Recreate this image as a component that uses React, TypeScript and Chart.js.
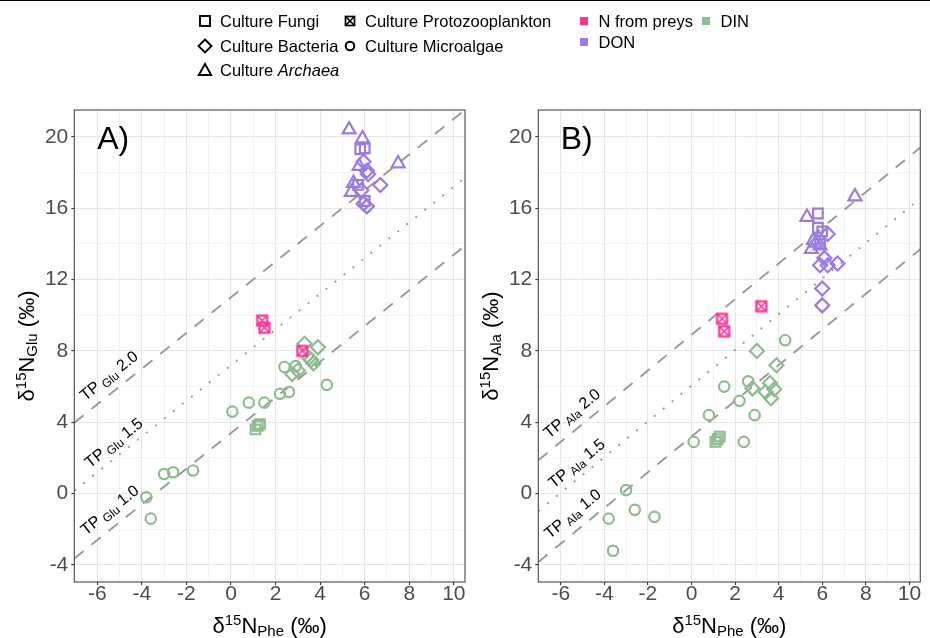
import React, { useEffect, useRef } from 'react';
import { Chart, registerables } from 'chart.js';
Chart.register(...registerables);

const FONT = "'Liberation Sans', Arial, sans-serif";
const COLOR_PREY = '#FF3399';
const COLOR_DIN = '#8FBC8F';
const COLOR_DON = '#9B7BE0';
const LINE_GREY = '#999999';

// axis extents
const X_MIN = -7.03;
const X_MAX = 10.5;
const Y_MIN = -4.95;
const Y_MAX = 21.5;

// TP reference lines (delta15N_AA = delta15N_Phe + intercept)
const tpLevels = ['1.0', '1.5', '2.0'];
const gluIntercepts = [3.4, 7.2, 11.0];
const alaIntercepts = [3.2, 6.05, 8.9];

// ---------- Panel A : Phe vs Glu ----------
const A_microalgae_DIN_x = [-3.8, -3.6, -3.0, -2.6, -1.7, 0.06, 0.8, 1.5, 2.2, 2.6, 2.4, 2.9, 4.3];
const A_microalgae_DIN_y = [-0.2, -1.4, 1.1, 1.2, 1.3, 4.6, 5.1, 5.1, 5.6, 5.7, 7.1, 7.15, 6.1];
const A_fungi_DIN_x = [1.1, 1.2, 1.3];
const A_fungi_DIN_y = [3.6, 3.8, 3.9];
const A_bacteria_DIN_x = [2.75, 3.0, 3.3, 3.9, 3.5, 3.6, 3.7];
const A_bacteria_DIN_y = [6.7, 6.9, 8.4, 8.2, 7.6, 7.5, 7.3];
const A_proto_prey_x = [1.4, 1.5, 3.2];
const A_proto_prey_y = [9.7, 9.3, 8.0];
const A_fungi_DON_x = [5.8, 6.0, 5.7, 6.0];
const A_fungi_DON_y = [19.3, 19.35, 17.3, 16.4];
const A_bacteria_DON_x = [5.95, 6.1, 6.15, 6.7, 5.85, 5.95, 6.1];
const A_bacteria_DON_y = [18.6, 18.1, 17.9, 17.3, 17.0, 16.25, 16.1];
const A_archaea_DON_x = [5.3, 5.9, 7.5, 5.75, 5.5, 5.4];
const A_archaea_DON_y = [20.4, 19.9, 18.5, 18.35, 17.4, 16.9];

// ---------- Panel B : Phe vs Ala ----------
const B_microalgae_DIN_x = [-3.8, -3.6, -3.0, -2.6, -1.7, 0.1, 0.8, 1.5, 2.2, 2.6, 2.4, 2.9, 4.3];
const B_microalgae_DIN_y = [-1.4, -3.2, 0.2, -0.9, -1.3, 2.9, 4.4, 6.0, 5.2, 6.3, 2.9, 4.4, 8.6];
const B_fungi_DIN_x = [1.1, 1.2, 1.3];
const B_fungi_DIN_y = [2.9, 3.05, 3.2];
const B_bacteria_DIN_x = [2.8, 3.0, 3.4, 3.9, 3.6, 3.8, 3.65];
const B_bacteria_DIN_y = [5.9, 8.0, 5.7, 7.2, 6.2, 5.85, 5.35];
const B_proto_prey_x = [1.4, 1.5, 3.2];
const B_proto_prey_y = [9.8, 9.1, 10.5];
const B_fungi_DON_x = [5.8, 5.8, 6.0, 5.9];
const B_fungi_DON_y = [15.7, 14.9, 14.7, 14.0];
const B_bacteria_DON_x = [6.25, 6.1, 5.9, 6.25, 6.7, 6.0, 6.0];
const B_bacteria_DON_y = [14.55, 13.2, 12.8, 12.8, 12.9, 11.5, 10.55];
const B_archaea_DON_x = [7.5, 5.3, 5.6, 5.5, 5.9, 5.7];
const B_archaea_DON_y = [16.65, 15.5, 14.2, 13.7, 13.9, 14.05];

const zip = (xs: number[], ys: number[]) => xs.map((x, i) => ({ x, y: ys[i] }));

function crossedSquare(color: string) {
  const c = document.createElement('canvas');
  c.width = 15;
  c.height = 15;
  const g = c.getContext('2d')!;
  g.strokeStyle = color;
  g.lineWidth = 2.2;
  g.strokeRect(2.5, 2.5, 10, 10);
  g.lineWidth = 1.7;
  g.beginPath();
  g.moveTo(2.5, 2.5); g.lineTo(12.5, 12.5);
  g.moveTo(12.5, 2.5); g.lineTo(2.5, 12.5);
  g.stroke();
  return c;
}

type Part = { t: string; size: number; dy: number; italic?: boolean };

function partsWidth(ctx: CanvasRenderingContext2D, parts: Part[]) {
  let w = 0;
  for (const p of parts) {
    ctx.font = `${p.italic ? 'italic ' : ''}${p.size}px ${FONT}`;
    w += ctx.measureText(p.t).width;
  }
  return w;
}

function drawParts(ctx: CanvasRenderingContext2D, parts: Part[], x: number, y: number) {
  const total = partsWidth(ctx, parts);
  let cx = x - total / 2;
  ctx.textAlign = 'left';
  ctx.textBaseline = 'alphabetic';
  for (const p of parts) {
    ctx.font = `${p.italic ? 'italic ' : ''}${p.size}px ${FONT}`;
    ctx.fillText(p.t, cx, y + p.dy);
    cx += ctx.measureText(p.t).width;
  }
}

function axisTitle(sub: string): Part[] {
  return [
    { t: 'δ', size: 22, dy: 0 },
    { t: '15', size: 15, dy: -8 },
    { t: 'N', size: 22, dy: 0 },
    { t: sub, size: 15, dy: 3 },
    { t: ' (‰)', size: 22, dy: 0 },
  ];
}

type Panel = {
  groups: { xs: number[]; ys: number[]; style: any; radius: number; color: string }[];
  intercepts: number[];
  sub: string;
  letter: string;
  yWidth: number;
  padRight: number;
  yTitleX: number;
};

function buildPanel(p: Panel) {
  const datasets: any[] = p.groups.map((g) => ({
    data: zip(g.xs, g.ys),
    pointStyle: g.style,
    pointRadius: g.radius,
    pointHoverRadius: g.radius,
    pointBorderWidth: 2.2,
    pointBorderColor: g.color,
    pointBackgroundColor: 'rgba(0,0,0,0)',
    showLine: false,
  }));
  p.intercepts.forEach((b, i) => {
    datasets.push({
      data: [
        { x: X_MIN, y: X_MIN + b },
        { x: X_MAX, y: X_MAX + b },
      ],
      showLine: true,
      pointRadius: 0,
      borderColor: LINE_GREY,
      borderWidth: 1.9,
      borderDash: i === 1 ? [2, 9.5] : [12, 10],
      borderCapStyle: 'butt',
    });
  });

  const labelOffsets = [10.5, 7.5, 10];
  const labelXs = [-5.0, -4.9, -5.05];

  const decor = {
    id: 'decor',
    afterDatasetsDraw(chart: any) {
      const ctx: CanvasRenderingContext2D = chart.ctx;
      const xs = chart.scales.x;
      const ys = chart.scales.y;
      const area = chart.chartArea;
      ctx.save();
      // TP labels
      const dx = xs.getPixelForValue(1) - xs.getPixelForValue(0);
      const dy = ys.getPixelForValue(1) - ys.getPixelForValue(0);
      const ang = Math.atan2(dy, dx);
      ctx.fillStyle = '#000';
      p.intercepts.forEach((b, i) => {
        const lx = labelXs[i];
        const px = xs.getPixelForValue(lx);
        const py = ys.getPixelForValue(lx + b);
        ctx.save();
        ctx.translate(px, py);
        ctx.rotate(ang);
        drawParts(ctx, [
          { t: 'TP', size: 16, dy: 0 },
          { t: ' ' + p.sub, size: 12, dy: 3 },
          { t: ' ' + tpLevels[i], size: 16, dy: 0 },
        ], 0, -labelOffsets[i]);
        ctx.restore();
      });
      // panel letter
      ctx.font = `32px ${FONT}`;
      ctx.textAlign = 'left';
      ctx.textBaseline = 'alphabetic';
      ctx.fillStyle = '#000';
      ctx.fillText(p.letter, xs.getPixelForValue(-6), ys.getPixelForValue(20) + 12);
      // border
      ctx.strokeStyle = '#555555';
      ctx.lineWidth = 1.2;
      ctx.strokeRect(area.left, area.top, area.right - area.left, area.bottom - area.top);
      // axis titles
      ctx.fillStyle = '#000';
      drawParts(ctx, axisTitle('Phe'), (area.left + area.right) / 2, 633);
      ctx.save();
      ctx.translate(p.yTitleX, (area.top + area.bottom) / 2);
      ctx.rotate(-Math.PI / 2);
      drawParts(ctx, axisTitle(p.sub), 0, 0);
      ctx.restore();
      ctx.restore();
    },
  };

  const tickFont = { family: FONT, size: 21 };
  const isMajorX = (v: number) => Math.abs(v % 2) < 1e-6;
  const isMajorY = (v: number) => Math.abs(v % 4) < 1e-6;

  return {
    type: 'scatter' as const,
    data: { datasets },
    plugins: [decor],
    options: {
      animation: false,
      responsive: false,
      maintainAspectRatio: false,
      devicePixelRatio: 1,
      events: [],
      layout: { padding: { top: 110, left: 0, right: p.padRight, bottom: 0 } },
      plugins: { legend: { display: false }, tooltip: { enabled: false } },
      scales: {
        x: {
          type: 'linear',
          min: X_MIN,
          max: X_MAX,
          afterFit: (s: any) => { s.height = 56; },
          border: { display: false },
          grid: {
            color: (c: any) => (isMajorX(c.tick.value) ? '#E6E6E6' : '#F2F2F2'),
            lineWidth: (c: any) => (isMajorX(c.tick.value) ? 1.1 : 0.9),
            tickLength: 3,
            tickColor: (c: any) => (isMajorX(c.tick.value) ? '#333333' : 'rgba(0,0,0,0)'),
          },
          ticks: {
            stepSize: 1,
            autoSkip: false,
            maxRotation: 0,
            includeBounds: false,
            padding: -3,
            color: '#4D4D4D',
            font: tickFont,
            callback: (v: number) => (isMajorX(v) ? String(v) : ''),
          },
        },
        y: {
          type: 'linear',
          min: Y_MIN,
          max: Y_MAX,
          afterFit: (s: any) => { s.width = p.yWidth; },
          border: { display: false },
          grid: {
            color: (c: any) => (isMajorY(c.tick.value) ? '#E6E6E6' : '#F2F2F2'),
            lineWidth: (c: any) => (isMajorY(c.tick.value) ? 1.1 : 0.9),
            tickLength: 3,
            tickColor: (c: any) => (isMajorY(c.tick.value) ? '#333333' : 'rgba(0,0,0,0)'),
          },
          ticks: {
            stepSize: 2,
            autoSkip: false,
            includeBounds: false,
            padding: 3,
            color: '#4D4D4D',
            font: tickFont,
            callback: (v: number) => (isMajorY(v) ? String(v) : ''),
          },
        },
      },
    },
  };
}

function ShapeIcon({ kind }: { kind: string }) {
  const s = { position: 'absolute' as const, left: -8, top: -8 };
  return (
    <svg width={16} height={16} style={s}>
      {kind === 'square' && <rect x={3} y={3} width={10} height={10} fill="none" stroke="#000" strokeWidth={1.9} />}
      {kind === 'diamond' && <polygon points="8,1.5 14.5,8 8,14.5 1.5,8" fill="none" stroke="#000" strokeWidth={1.9} />}
      {kind === 'triangle' && <polygon points="8,2 14.2,13 1.8,13" fill="none" stroke="#000" strokeWidth={1.9} />}
      {kind === 'circle' && <circle cx={8} cy={8} r={4.3} fill="none" stroke="#000" strokeWidth={2} />}
      {kind === 'crossed' && (
        <g fill="none" stroke="#000" strokeWidth={1.7}>
          <rect x={3.5} y={3.5} width={9} height={9} />
          <line x1={3.5} y1={3.5} x2={12.5} y2={12.5} />
          <line x1={12.5} y1={3.5} x2={3.5} y2={12.5} />
        </g>
      )}
    </svg>
  );
}

function LegendItem({ x, y, icon, color, children }: { x: number; y: number; icon?: string; color?: string; children: any }) {
  return (
    <div style={{ position: 'absolute', left: x, top: y, width: 0, height: 0 }}>
      {icon && <ShapeIcon kind={icon} />}
      {color && <div style={{ position: 'absolute', left: -4, top: -4, width: 8, height: 8, background: color }} />}
      <div style={{ position: 'absolute', left: 15, top: -10, height: 20, lineHeight: '20px', whiteSpace: 'nowrap', fontSize: 16.5, color: '#000', fontFamily: FONT }}>
        {children}
      </div>
    </div>
  );
}

export default function App() {
  const refA = useRef<HTMLCanvasElement>(null);
  const refB = useRef<HTMLCanvasElement>(null);

  useEffect(() => {
    const proto = crossedSquare(COLOR_PREY);
    const mk = (xs: number[], ys: number[], style: any, radius: number, color: string) => ({ xs, ys, style, radius, color });
    const groupsA = [
      mk(A_proto_prey_x, A_proto_prey_y, proto, 5, COLOR_PREY),
      mk(A_microalgae_DIN_x, A_microalgae_DIN_y, 'circle', 5.2, COLOR_DIN),
      mk(A_fungi_DIN_x, A_fungi_DIN_y, 'rect', 6.8, COLOR_DIN),
      mk(A_bacteria_DIN_x, A_bacteria_DIN_y, 'rectRot', 7, COLOR_DIN),
      mk(A_fungi_DON_x, A_fungi_DON_y, 'rect', 6.8, COLOR_DON),
      mk(A_bacteria_DON_x, A_bacteria_DON_y, 'rectRot', 7, COLOR_DON),
      mk(A_archaea_DON_x, A_archaea_DON_y, 'triangle', 7.5, COLOR_DON),
    ];
    const groupsB = [
      mk(B_proto_prey_x, B_proto_prey_y, proto, 5, COLOR_PREY),
      mk(B_microalgae_DIN_x, B_microalgae_DIN_y, 'circle', 5.2, COLOR_DIN),
      mk(B_fungi_DIN_x, B_fungi_DIN_y, 'rect', 6.8, COLOR_DIN),
      mk(B_bacteria_DIN_x, B_bacteria_DIN_y, 'rectRot', 7, COLOR_DIN),
      mk(B_fungi_DON_x, B_fungi_DON_y, 'rect', 6.8, COLOR_DON),
      mk(B_bacteria_DON_x, B_bacteria_DON_y, 'rectRot', 7, COLOR_DON),
      mk(B_archaea_DON_x, B_archaea_DON_y, 'triangle', 7.5, COLOR_DON),
    ];
    const a = new Chart(refA.current!, buildPanel({
      groups: groupsA, intercepts: gluIntercepts, sub: 'Glu', letter: 'A)', yWidth: 74.3, padRight: 15, yTitleX: 34,
    }) as any);
    const b = new Chart(refB.current!, buildPanel({
      groups: groupsB, intercepts: alaIntercepts, sub: 'Ala', letter: 'B)', yWidth: 58.3, padRight: 1, yTitleX: 18,
    }) as any);
    return () => {
      a.destroy();
      b.destroy();
    };
  }, []);

  return (
    <div style={{ position: 'fixed', left: 0, top: 0, width: 930, height: 638, background: '#fff', overflow: 'hidden', fontFamily: FONT }}>
      <canvas ref={refA} width={480} height={638} style={{ position: 'absolute', left: 0, top: 0, width: 480, height: 638 }} />
      <canvas ref={refB} width={450} height={638} style={{ position: 'absolute', left: 480, top: 0, width: 450, height: 638 }} />
      <div style={{ position: 'absolute', left: 0, top: 0, width: 930, height: 1, background: '#000' }} />
      <LegendItem x={205} y={20.5} icon="square">Culture Fungi</LegendItem>
      <LegendItem x={205} y={45.5} icon="diamond">Culture Bacteria</LegendItem>
      <LegendItem x={205} y={70} icon="triangle">Culture <i>Archaea</i></LegendItem>
      <LegendItem x={350} y={20.5} icon="crossed">Culture Protozooplankton</LegendItem>
      <LegendItem x={350} y={45.5} icon="circle">Culture Microalgae</LegendItem>
      <LegendItem x={583.5} y={20.5} color={COLOR_PREY}>N from preys</LegendItem>
      <LegendItem x={583.5} y={41.5} color={COLOR_DON}>DON</LegendItem>
      <LegendItem x={705.5} y={20.5} color={COLOR_DIN}>DIN</LegendItem>
    </div>
  );
}
